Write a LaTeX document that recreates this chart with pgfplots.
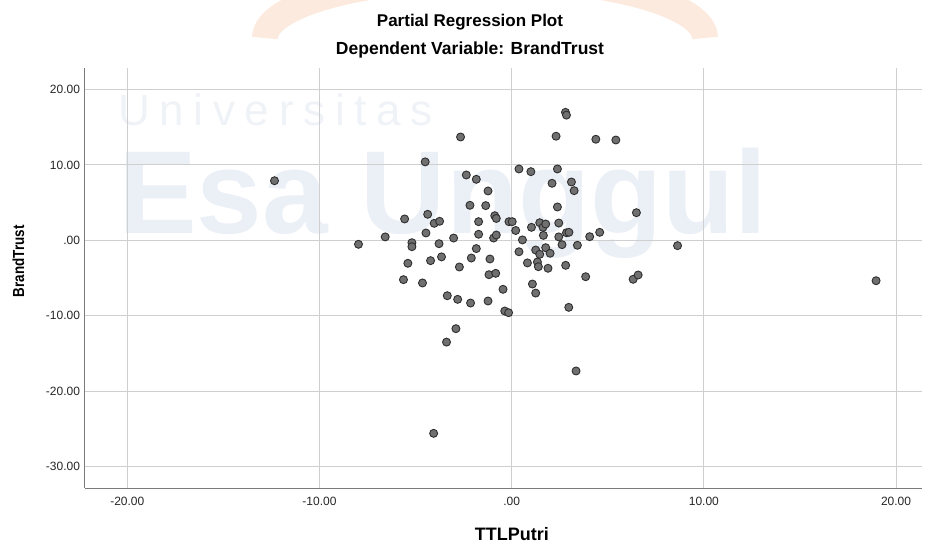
\documentclass[border=0pt]{standalone}
\usepackage{fontspec}
\setmainfont{Liberation Sans}
\newfontfamily\wmthin[LetterSpace=22]{Liberation Sans}
\usepackage{graphicx}
\usepackage{pgfplots}
\pgfplotsset{compat=1.18}
\definecolor{gridc}{HTML}{CFCFCF}
\definecolor{axisc}{HTML}{7A7A7A}
\definecolor{ptfill}{HTML}{707070}
\definecolor{ptdraw}{HTML}{2E2E2E}
\definecolor{wmblue}{HTML}{EBEFF6}
\definecolor{wmthin}{HTML}{EFF2F7}
\definecolor{wmorange}{HTML}{FCEADF}
\pgfplotstableread{
x y
-12.34 7.90
-7.97 -0.53
-6.58 0.45
-5.57 2.83
-5.40 -3.05
-5.63 -5.22
-5.19 -0.32
-5.19 -0.85
-4.64 -5.66
-4.50 10.40
-4.46 0.97
-4.37 3.45
-4.22 -2.70
-4.06 -25.60
-4.03 2.25
-3.78 -0.45
-3.75 2.52
-3.65 -2.20
-3.39 -13.50
-3.35 -7.35
-3.02 0.30
-2.90 -11.72
-2.81 -7.83
-2.72 -3.54
-2.66 13.70
-2.36 8.66
-2.17 4.64
-2.14 -8.32
-2.10 -2.35
-1.84 8.09
-1.84 -1.10
-1.72 2.47
-1.72 0.80
-1.35 4.60
-1.23 6.54
-1.23 -8.05
-1.18 -4.56
-1.13 -2.48
-0.94 0.30
-0.80 0.70
-0.88 3.26
-0.80 2.90
-0.83 -4.38
-0.45 -6.50
-0.36 -9.38
-0.16 -9.60
-0.14 2.47
0.03 2.47
0.21 1.30
0.38 9.46
0.38 -1.52
0.56 0.05
0.82 -3.00
1.00 9.10
1.03 1.72
1.08 -5.80
1.25 -7.00
1.25 -1.29
1.34 -2.88
1.39 -3.50
1.46 2.33
1.46 -1.86
1.63 1.72
1.65 0.65
1.77 2.16
1.77 -0.98
1.89 -3.71
2.00 -1.72
2.10 7.56
2.31 13.80
2.38 9.46
2.38 4.42
2.45 2.29
2.45 0.45
2.62 -0.58
2.80 16.97
2.85 16.60
2.81 -3.32
2.85 1.00
2.98 1.06
2.97 -8.89
3.11 7.73
3.25 6.58
3.35 -17.33
3.42 -0.66
3.85 -4.83
4.06 0.48
4.38 13.40
4.58 1.06
5.42 13.30
6.32 -5.17
6.58 -4.60
6.49 3.66
8.63 -0.71
18.96 -5.36
}\datatable
\begin{document}
\begin{tikzpicture}
\useasboundingbox (-85pt,-56pt) rectangle (841pt,488pt);
% faint watermark
\draw[wmorange, line width=26pt] (180pt,450pt) arc[start angle=180, end angle=0, x radius=220pt, y radius=60pt];
\node[anchor=base west, inner sep=0pt, text=wmthin, font=\wmthin\fontsize{44}{46}\selectfont] at (33pt,362pt) {Universitas};
\node[anchor=base west, inner sep=0pt, text=wmblue, font=\bfseries\fontsize{118}{120}\selectfont] at (33pt,254pt) {Esa Unggul};
\begin{axis}[
  at={(0pt,0pt)}, anchor=south west,
  scale only axis, width=837pt, height=420pt,
  xmin=-22.2, xmax=21.35, ymin=-32.85, ymax=22.85,
  axis x line*=bottom, axis y line*=left,
  axis line style={color=axisc, line width=1pt},
  grid=major, major grid style={color=gridc, line width=0.9pt},
  major tick length=0pt,
  xtick={-20,-10,0,10,20},
  xticklabels={-20.00,-10.00,.00,10.00,20.00},
  ytick={-30,-20,-10,0,10,20},
  yticklabels={-30.00,-20.00,-10.00,.00,10.00,20.00},
  tick label style={font=\fontsize{12}{14}\selectfont, text=black!85},
  xticklabel style={anchor=base, yshift=-17pt},
  yticklabel style={anchor=east, xshift=-1.5pt},
  xlabel={TTLPutri},
  xlabel style={font=\bfseries\fontsize{18}{20}\selectfont, at={(axis description cs:0.51,-0.124)}, anchor=base},
  ylabel={\scalebox{0.84}[1]{BrandTrust}},
  ylabel style={font=\bfseries\fontsize{16}{18}\selectfont, at={(axis description cs:-0.0795,0.54)}, anchor=center},
  clip=false,
]
\addplot[only marks, mark=*, mark size=4pt, mark options={fill=ptfill, draw=ptdraw, line width=0.9pt}] table[x=x, y=y] {\datatable};
\end{axis}
\node[anchor=base, font=\bfseries\fontsize{17}{19}\selectfont] at (385pt,461pt) {Partial Regression Plot};
\node[anchor=base, font=\bfseries\fontsize{17.5}{19}\selectfont] at (385pt,433pt) {Dependent Variable: BrandTrust};
\end{tikzpicture}
\end{document}
